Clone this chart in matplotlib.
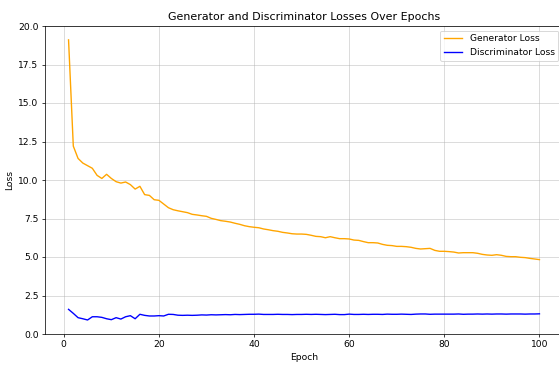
import matplotlib
matplotlib.use("Agg")
import matplotlib.pyplot as plt

epochs = list(range(1, 101))

generator_loss = [
    19.1, 12.2, 11.4, 11.1, 10.93, 10.76, 10.3, 10.1, 10.37, 10.1,
    9.89, 9.8, 9.87, 9.7, 9.41, 9.59, 9.05, 9.0, 8.72, 8.68,
    8.44, 8.2, 8.07, 8.0, 7.94, 7.88, 7.77, 7.73, 7.68, 7.64,
    7.51, 7.44, 7.36, 7.32, 7.27, 7.19, 7.12, 7.03, 6.97, 6.93,
    6.9, 6.82, 6.77, 6.71, 6.67, 6.6, 6.56, 6.51, 6.49, 6.49,
    6.47, 6.41, 6.34, 6.32, 6.25, 6.32, 6.25, 6.19, 6.19, 6.17,
    6.1, 6.08, 6.0, 5.93, 5.93, 5.91, 5.82, 5.76, 5.74, 5.69,
    5.69, 5.67, 5.63, 5.56, 5.52, 5.54, 5.56, 5.43, 5.37, 5.37,
    5.35, 5.32, 5.26, 5.28, 5.28, 5.28, 5.24, 5.17, 5.13, 5.11,
    5.15, 5.11, 5.04, 5.02, 5.02, 4.98, 4.96, 4.91, 4.87, 4.83,
]

discriminator_loss = [
    1.6, 1.34, 1.06, 0.99, 0.91, 1.12, 1.12, 1.08, 0.99, 0.93,
    1.06, 0.97, 1.12, 1.19, 0.99, 1.28, 1.21, 1.17, 1.17, 1.19,
    1.17, 1.28, 1.27, 1.22, 1.21, 1.22, 1.21, 1.22, 1.24, 1.23,
    1.25, 1.24, 1.25, 1.26, 1.25, 1.27, 1.26, 1.27, 1.28, 1.28,
    1.29, 1.27, 1.27, 1.27, 1.28, 1.27, 1.27, 1.26, 1.27, 1.27,
    1.28, 1.27, 1.28, 1.27, 1.26, 1.27, 1.28, 1.26, 1.26, 1.29,
    1.27, 1.27, 1.28, 1.27, 1.28, 1.28, 1.27, 1.29, 1.28, 1.28,
    1.29, 1.28, 1.27, 1.29, 1.30, 1.30, 1.28, 1.29, 1.29, 1.29,
    1.29, 1.29, 1.30, 1.28, 1.29, 1.29, 1.30, 1.29, 1.30, 1.29,
    1.30, 1.30, 1.29, 1.30, 1.30, 1.30, 1.29, 1.30, 1.30, 1.31,
]

DPI = 66
fig = plt.figure(figsize=(559 / DPI, 365 / DPI), dpi=DPI)
ax = fig.add_axes([45 / 559, 31 / 365, (563 - 45) / 559, (334 - 26) / 365])

ax.plot(epochs, generator_loss, color="orange", label="Generator Loss")
ax.plot(epochs, discriminator_loss, color="blue", label="Discriminator Loss")
ax.set_ylim(0, 20.0)
ax.set_title("Generator and Discriminator Losses Over Epochs")
ax.set_xlabel("Epoch")
ax.set_ylabel("Loss")
ax.legend(loc="upper right")
ax.grid(True, alpha=0.6)

fig.savefig("out.png", dpi=DPI)
